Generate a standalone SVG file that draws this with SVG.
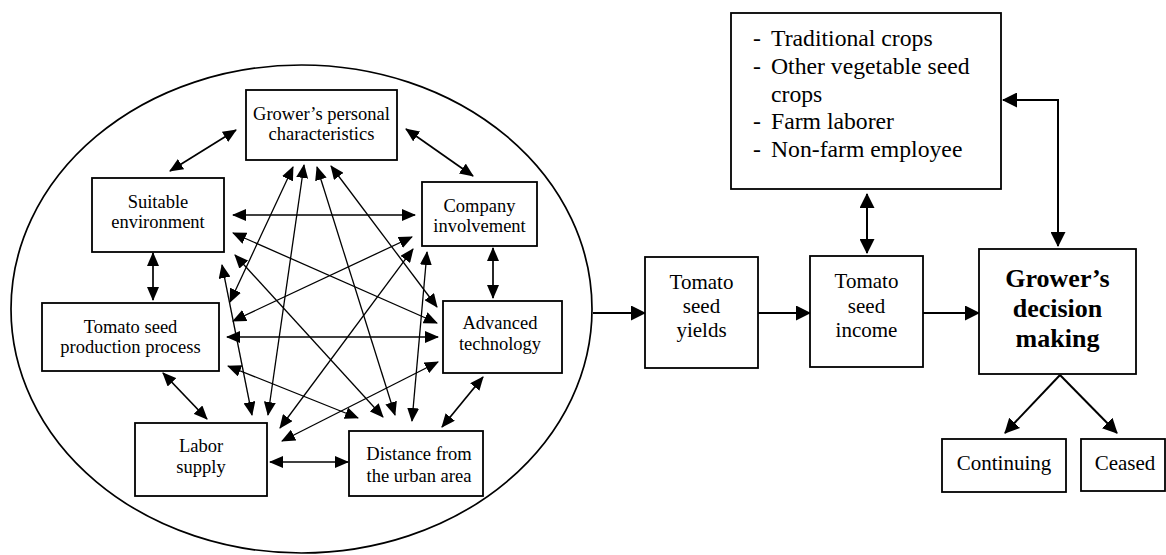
<svg xmlns="http://www.w3.org/2000/svg" width="1166" height="555" viewBox="0 0 1166 555">
<defs>
<style>
.box{fill:#fff;stroke:#000;stroke-width:1.8}
.ring{fill:none;stroke:#000;stroke-width:1.7}
.t{font-family:"Liberation Serif","Times New Roman",serif;fill:#000;text-anchor:middle}
.s18{font-size:18.5px}
.s21{font-size:21px}
.s24{font-size:23.7px;text-anchor:start}
.sb{font-size:26px;font-weight:bold}
.in{stroke:#000;stroke-width:1.3;fill:none;marker-start:url(#ah);marker-end:url(#ah)}
.adj{stroke:#000;stroke-width:1.7;fill:none;marker-start:url(#ah);marker-end:url(#ah)}
.big2{stroke:#000;stroke-width:2;fill:none;marker-start:url(#ahL);marker-end:url(#ahL)}
.big1{stroke:#000;stroke-width:2;fill:none;marker-end:url(#ahL)}
</style>
<marker id="ah" markerUnits="userSpaceOnUse" markerWidth="14" markerHeight="12" refX="13" refY="6" orient="auto-start-reverse" viewBox="0 0 14 12"><path d="M0,0 L14,6 L0,12 z" fill="#000"/></marker>
<marker id="ahL" markerUnits="userSpaceOnUse" markerWidth="15" markerHeight="15" refX="14" refY="7.5" orient="auto-start-reverse" viewBox="0 0 15 15"><path d="M0,0 L15,7.5 L0,15 z" fill="#000"/></marker>
</defs>
<rect width="1166" height="555" fill="#fff"/>
<g id="factors-ellipse"><ellipse class="ring" cx="301.5" cy="309" rx="290.5" ry="244"/></g>
<g id="connectors">
<line class="adj" x1="170" y1="171" x2="236" y2="130"/>
<line class="adj" x1="406" y1="129" x2="473" y2="176"/>
<line class="adj" x1="493" y1="248" x2="493" y2="298"/>
<line class="adj" x1="483" y1="377" x2="442" y2="427"/>
<line class="adj" x1="270" y1="462" x2="348" y2="462"/>
<line class="adj" x1="163" y1="373" x2="207" y2="419"/>
<line class="adj" x1="153" y1="253" x2="153" y2="300"/>
<line class="in" x1="233" y1="215" x2="415" y2="215"/>
<line class="in" x1="227" y1="337" x2="438" y2="337"/>
<line class="in" x1="293" y1="167" x2="230" y2="302"/>
<line class="in" x1="304" y1="165" x2="268" y2="415"/>
<line class="in" x1="317" y1="167" x2="395" y2="415"/>
<line class="in" x1="331" y1="166" x2="437" y2="307"/>
<line class="in" x1="233" y1="233" x2="437" y2="323"/>
<line class="in" x1="235" y1="255" x2="383" y2="417"/>
<line class="in" x1="222" y1="265" x2="252" y2="415"/>
<line class="in" x1="412" y1="237" x2="233" y2="321"/>
<line class="in" x1="413" y1="249" x2="280" y2="428"/>
<line class="in" x1="427" y1="252" x2="412" y2="421"/>
<line class="in" x1="438" y1="362" x2="282" y2="441"/>
<line class="in" x1="228" y1="366" x2="358" y2="418"/>
<line class="big1" x1="593" y1="313" x2="645" y2="313"/>
<line class="big1" x1="758" y1="313" x2="810" y2="313"/>
<line class="big1" x1="923" y1="313" x2="979" y2="313"/>
<line class="big2" x1="867" y1="194" x2="867" y2="253"/>
<path class="big2" d="M1058,246 L1058,100 L1003,100"/>
<line class="big1" x1="1060" y1="375" x2="1005" y2="433"/>
<line class="big1" x1="1060" y1="375" x2="1117" y2="433"/>
</g>
<g id="growers-personal-characteristics">
<rect class="box" x="246" y="90" width="151" height="70"/>
<text class="t s18" x="321.5" y="120">Grower’s personal</text>
<text class="t s18" x="321.5" y="140">characteristics</text>
</g>
<g id="suitable-environment">
<rect class="box" x="92" y="178" width="132" height="74"/>
<text class="t s18" x="158" y="208">Suitable</text>
<text class="t s18" x="158" y="228">environment</text>
</g>
<g id="company-involvement">
<rect class="box" x="422" y="182" width="115" height="64"/>
<text class="t s18" x="479.5" y="212">Company</text>
<text class="t s18" x="479.5" y="232">involvement</text>
</g>
<g id="tomato-seed-production-process">
<rect class="box" x="42" y="303" width="177" height="68"/>
<text class="t s18" x="130.5" y="333">Tomato seed</text>
<text class="t s18" x="130.5" y="353">production process</text>
</g>
<g id="advanced-technology">
<rect class="box" x="443" y="301" width="119" height="72"/>
<text class="t s18" x="500" y="329">Advanced</text>
<text class="t s18" x="500" y="350">technology</text>
</g>
<g id="labor-supply">
<rect class="box" x="135" y="423" width="132" height="73"/>
<text class="t s18" x="201" y="452">Labor</text>
<text class="t s18" x="201" y="473">supply</text>
</g>
<g id="distance-from-urban-area">
<rect class="box" x="349" y="431" width="134" height="65"/>
<text class="t s18" x="419" y="460">Distance from</text>
<text class="t s18" x="419" y="482">the urban area</text>
</g>
<g id="tomato-seed-yields">
<rect class="box" x="645" y="257" width="113" height="111"/>
<text class="t s21" x="701.5" y="289">Tomato</text>
<text class="t s21" x="701.5" y="313">seed</text>
<text class="t s21" x="701.5" y="337">yields</text>
</g>
<g id="tomato-seed-income">
<rect class="box" x="810" y="256" width="113" height="111"/>
<text class="t s21" x="866.5" y="288">Tomato</text>
<text class="t s21" x="866.5" y="313">seed</text>
<text class="t s21" x="866.5" y="337">income</text>
</g>
<g id="alternatives">
<rect class="box" x="731" y="13" width="270" height="176"/>
<text class="t s24" y="46"><tspan x="753">-</tspan><tspan x="771">Traditional crops</tspan></text>
<text class="t s24" y="74"><tspan x="753">-</tspan><tspan x="771">Other vegetable seed</tspan></text>
<text class="t s24" x="771" y="101.5">crops</text>
<text class="t s24" y="129"><tspan x="753">-</tspan><tspan x="771">Farm laborer</tspan></text>
<text class="t s24" y="157"><tspan x="753">-</tspan><tspan x="771">Non-farm employee</tspan></text>
</g>
<g id="growers-decision-making">
<rect class="box" x="979" y="249" width="157" height="125"/>
<text class="t sb" x="1057.5" y="287">Grower’s</text>
<text class="t sb" x="1057.5" y="317">decision</text>
<text class="t sb" x="1057.5" y="347">making</text>
</g>
<g id="continuing">
<rect class="box" x="942" y="439" width="124" height="53"/>
<text class="t s21" x="1004" y="470">Continuing</text>
</g>
<g id="ceased">
<rect class="box" x="1081" y="439" width="84" height="52"/>
<text class="t s21" x="1125" y="470">Ceased</text>
</g>
</svg>
